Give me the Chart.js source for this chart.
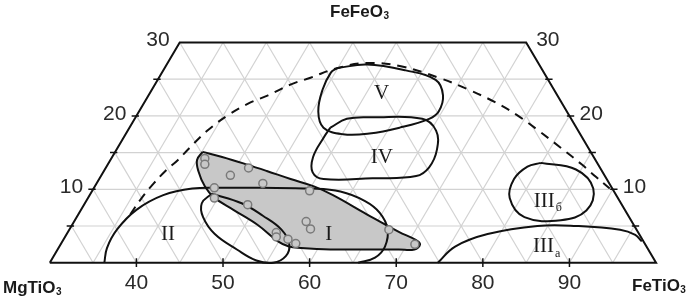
<!DOCTYPE html>
<html>
<head>
<meta charset="utf-8">
<script src="https://cdn.jsdelivr.net/npm/chart.js@4.4.1/dist/chart.umd.min.js"></script>
<style>
html,body{margin:0;padding:0;background:#fff;}
#wrap{width:697px;height:300px;position:relative;}
</style>
</head>
<body>
<div id="wrap"><canvas id="graph"></canvas></div>
<script>
// all points are [FeTiO3 %, FeFeO3 %]; MgTiO3 = 100 - both
var samples = [[40.8,14.2],[41.2,13.4],[44.9,11.9],[46.5,12.9],[49.2,10.8],[43.9,10.2],[44.6,8.8],
  [48.9,7.9],[55.1,9.8],[56.8,5.6],[57.8,4.6],[54.1,4.1],[54.4,3.5],[55.9,3.2],[57.1,2.6],[66.9,4.5],[70.9,2.5]];

// поле I (закрашено)
var fieldI = [[40.1,15.1],[42.7,14.4],[46.0,13.4],[48.8,12.5],[52.1,11.4],[55.3,10.4],[58.1,9.2],[63.3,6.6],
  [68.2,4.2],[70.7,3.1],[71.5,2.5],[71.2,1.8],[69.4,1.8],[65.7,1.8],[61.5,1.8],[58.0,2.0],[56.5,2.2],[54.9,2.9],
  [51.5,5.1],[47.6,7.2],[44.5,8.9],[42.7,10.4],[40.9,12.5],[40.0,14.0]];
var fieldSmall = [[44.0,9.4],[48.1,8.1],[51.4,6.4],[54.5,4.5],[56.4,2.5],[56.8,0.9],[55.8,0],[53.7,0.3],
  [50.7,1.8],[47.1,3.9],[44.6,6.2],[43.5,8.1]];
var fieldII = [[36.3,0],[35.6,2.0],[35.5,4.5],[36.4,7.2],[38.5,9.2],[41.4,10.1],[44.8,10.2],[49.3,10.2],
  [55.1,10.1],[58.7,9.7],[62.2,8.4],[64.7,6.8],[66.7,4.6],[67.6,2.2],[67.2,0.7],[65.6,0]];
var fieldV = [[49.9,26.5],[53.1,27.0],[58.0,26.2],[62.1,24.9],[64.0,22.8],[64.6,20.6],[64.0,19.6],[61.2,18.4],
  [58.1,17.6],[55.1,17.5],[52.4,18.4],[50.7,20.6],[49.7,23.6],[49.5,25.9]];
var fieldIV = [[53.2,18.4],[54.5,19.6],[57.4,19.8],[63.2,19.6],[65.6,18.0],[67.0,15.4],[67.3,13.0],[66.4,11.8],
  [61.5,11.5],[55.9,11.4],[54.2,12.3],[53.2,14.4],[53.1,17.1]];
var fieldIIIb = [[79.9,13.6],[84.4,12.7],[87.7,10.1],[88.4,7.1],[86.1,5.8],[81.7,6.2],[78.7,8.8],[77.9,11.4],[78.6,13.1]];
var fieldIIIa = [[74.8,0],[75.7,2.2],[78.6,3.9],[83.8,5.0],[88.3,5.0],[93.6,4.5],[95.7,3.8],[96.9,2.9]];
var dashed = [[36.0,6.6],[36.2,8.8],[36.6,10.8],[37.1,12.5],[37.8,14.0],[38.3,15.6],[39.2,18.0],[40.6,20.2],
  [42.1,21.7],[43.8,22.8],[45.7,24.3],[47.5,25.2],[49.9,26.5],[53.0,27.2],[57.0,26.8],[62.3,25.2],[66.5,23.6],
  [70.4,21.9],[73.9,20.1],[77.1,18.2],[81.1,15.7],[84.7,13.4],[87.2,11.7],[89.6,10.1]];

var fieldLabels = [['V',56.8,23.0],['IV',61.2,14.3],['II',41.7,3.9],['I',60.3,3.8],['III',82.9,8.4,'б'],['III',85.9,2.2,'а']];
var bottomTicks = [40,50,60,70,80,90];
var sideTicks = [10,20,30];
var gridSteps = [5,10,15,20,25];

function tern(p){ return {x: p[0] + p[1]/2, y: p[1]}; }

function seg(a, b, color, width, order){
  return {data:[a,b], showLine:true, borderColor:color, borderWidth:width, pointRadius:0,
    fill:false, tension:0, order:order};
}
function curve(pts, closed, extra){
  var d = pts.map(tern);
  if (closed) d.push(tern(pts[0]));
  var ds = {data:d, showLine:true, borderColor:'#111', borderWidth:2, pointRadius:0,
    fill:false, tension:0.4, order:5};
  for (var k in extra) ds[k] = extra[k];
  return ds;
}

var datasets = [];
var gridColor = '#d2d2d2';
// сетка
gridSteps.forEach(function(f){
  datasets.push(seg(tern([30,f]), tern([100-f,f]), gridColor, 1.2, 20));
});
for (var t = 35; t <= 95; t += 5) {
  datasets.push(seg(tern([t,0]), tern([t,Math.min(30,100-t)]), gridColor, 1.2, 20));
}
for (var m = 5; m <= 65; m += 5) {
  var ft = Math.min(30, 70-m);
  datasets.push(seg(tern([100-m,0]), tern([100-m-ft,ft]), gridColor, 1.2, 20));
}
// рамка
datasets.push({data:[tern([30,0]),tern([100,0]),tern([70,30]),tern([30,30]),tern([30,0])], showLine:true,
  borderColor:'#111', borderWidth:2, pointRadius:0, fill:false, tension:0, order:2});
// засечки
gridSteps.forEach(function(f){
  var l = tern([30,f]), r = tern([100-f,f]);
  datasets.push(seg({x:l.x-0.55,y:f},{x:l.x+0.3,y:f},'#111',1.5,2));
  datasets.push(seg({x:r.x-0.3,y:f},{x:r.x+0.55,y:f},'#111',1.5,2));
});
bottomTicks.forEach(function(t){
  datasets.push(seg({x:t,y:-0.6},{x:t,y:0.6},'#111',1.5,2));
});

datasets.push(curve(fieldI, true, {fill:'shape', backgroundColor:'#c8c8c8', order:12}));
datasets.push(curve(fieldSmall, true));
datasets.push(curve(fieldII, false));
datasets.push(curve(fieldV, true));
datasets.push(curve(fieldIV, true));
datasets.push(curve(fieldIIIb, true));
datasets.push(curve(fieldIIIa, false));
datasets.push(curve(dashed, false, {borderDash:[9,7]}));
datasets.push({data:samples.map(tern), pointRadius:4, pointBorderWidth:1.5,
  pointBorderColor:'#7a7a7a', pointBackgroundColor:'#c8c8c8', showLine:false, order:1});

var labelsPlugin = {
  id: 'ternLabels',
  afterDatasetsDraw: function(chart){
    var ctx = chart.ctx, sx = chart.scales.x, sy = chart.scales.y;
    function px(t,f){ return [sx.getPixelForValue(t+f/2), sy.getPixelForValue(f)]; }
    ctx.save();
    ctx.fillStyle = '#2a2a2a';
    ctx.font = '21px "Liberation Sans", Arial, sans-serif';
    ctx.textBaseline = 'middle';
    ctx.textAlign = 'center';
    bottomTicks.forEach(function(t){
      var p = px(t,0);
      ctx.fillText(String(t), p[0], p[1]+20);
    });
    sideTicks.forEach(function(f){
      var l = px(30,f), r = px(100-f,f);
      ctx.textAlign = 'right';
      ctx.fillText(String(f), l[0]-10, l[1]-2);
      ctx.textAlign = 'left';
      ctx.fillText(String(f), r[0]+10, r[1]-2);
    });
    // названия вершин
    function formula(txt, x, y){
      ctx.textAlign = 'left';
      ctx.textBaseline = 'alphabetic';
      ctx.font = 'bold 17px "Liberation Sans", Arial, sans-serif';
      ctx.fillText(txt, x, y);
      var w = ctx.measureText(txt).width;
      ctx.font = 'bold 10px "Liberation Sans", Arial, sans-serif';
      ctx.fillText('3', x+w+0.5, y+2);
    }
    ctx.fillStyle = '#1a1a1a';
    formula('FeFeO', 330, 17);
    formula('MgTiO', 3, 293);
    formula('FeTiO', 632, 291);
    // поля
    ctx.font = '21px "Liberation Serif", "Times New Roman", serif';
    fieldLabels.forEach(function(l){
      var p = px(l[1], l[2]);
      ctx.textAlign = 'center';
      ctx.textBaseline = 'middle';
      ctx.font = '21px "Liberation Serif", "Times New Roman", serif';
      ctx.fillText(l[0], p[0], p[1]);
      if (l[3]) {
        var w = ctx.measureText(l[0]).width;
        ctx.font = '12px "Liberation Serif", "Times New Roman", serif';
        ctx.textAlign = 'left';
        ctx.fillText(l[3], p[0]+w/2+1, p[1]+7);
      }
    });
    ctx.restore();
  }
};

window.onload = function(){
  var ctx = document.getElementById('graph').getContext('2d');
  new Chart(ctx, {
    type: 'scatter',
    data: {datasets: datasets},
    options: {
      responsive: true, maintainAspectRatio: false, animation: false,
      layout: {padding: 0},
      plugins: {legend: {display: false}, tooltip: {enabled: false}},
      scales: {
        x: {type: 'linear', display: false, min: 24.886, max: 104.091},
        y: {type: 'linear', display: false, min: -4.331, max: 35.039}
      }
    },
    plugins: [labelsPlugin]
  });
};
</script>
</body>
</html>
